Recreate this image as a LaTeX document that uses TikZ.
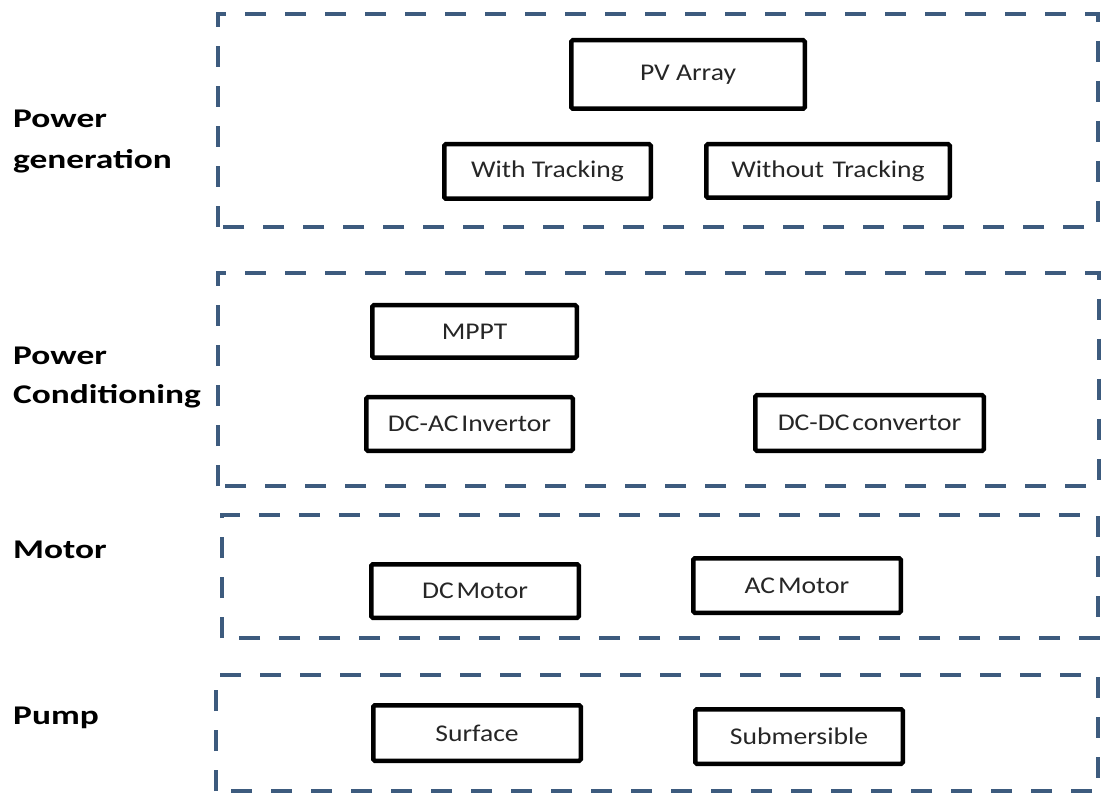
\documentclass[tikz,border=0pt]{standalone}
\usepackage{fontspec}
\setmainfont{Carlito}
\newfontfamily\boxfont[FakeStretch=1.15]{Carlito}
\newfontfamily\labfont[FakeStretch=1.31]{Carlito}
\definecolor{framecol}{HTML}{3D5B7E}
\definecolor{inkcol}{HTML}{262626}
\tikzset{
  group/.style={draw=framecol, line width=4.5pt, dash pattern=on 21pt off 19pt},
  item/.style={draw=black, line width=4.5pt, rounded corners=1.5pt, fill=white,
    inner sep=0pt, text=inkcol, font=\boxfont\fontsize{24}{28}\selectfont},
  layer/.style={anchor=north west, inner sep=0pt, align=left, text=black}
}
\begin{document}
\begin{tikzpicture}[x=1pt,y=-1pt]
\useasboundingbox (0,0) rectangle (1101,794);
\fill[white] (0,0) rectangle (1101,794);

% layer frames
\draw[group] (218,227) -- (218,14) -- (1098,14) -- (1098,227) -- cycle;
\draw[group] (218,486) -- (218,273) -- (1099,273) -- (1099,486) -- cycle;
\draw[group] (222,638) -- (222,515) -- (1098,515) -- (1098,638) -- cycle;
\draw[group] (216,791) -- (216,675) -- (1098,675) -- (1098,791) -- cycle;

% layer names
\node[layer, font=\labfont\bfseries\fontsize{27}{41}\selectfont] (lgen) at (13,110) {Power\\generation};
\node[layer, font=\labfont\bfseries\fontsize{27}{39}\selectfont] (lcond) at (13,347) {Power\\Conditioning};
\node[layer, font=\labfont\bfseries\fontsize{27}{39}\selectfont] (lmot) at (13,541) {Motor};
\node[layer, font=\labfont\bfseries\fontsize{27}{39}\selectfont] (lpump) at (13,707) {Pump};

% power generation
\node[item, minimum width=233.5pt, minimum height=68.5pt] (pv) at (688,74.5) {PV Array};
\node[item, minimum width=206.5pt, minimum height=54.5pt] (wt) at (547.5,171.5) {With Tracking};
\node[item, minimum width=243.5pt, minimum height=53.5pt] (wot) at (828,171) {Without\hspace{0.35em}Tracking};

% power conditioning
\node[item, minimum width=204.5pt, minimum height=52.5pt] (mppt) at (474.5,331.5) {MPPT};
\node[item, minimum width=206.5pt, minimum height=53.5pt] (inv) at (469.5,424) {DC-AC\hspace{0.12em}Invertor};
\node[item, minimum width=228.5pt, minimum height=55.5pt] (conv) at (869.5,423) {DC-DC\hspace{0.12em}convertor};

% motor
\node[item, minimum width=207.5pt, minimum height=53.5pt] (dcm) at (475,591) {DC\hspace{0.12em}Motor};
\node[item, minimum width=207.5pt, minimum height=54.5pt] (acm) at (797,585.5) {AC\hspace{0.12em}Motor};

% pump
\node[item, minimum width=207.5pt, minimum height=55.5pt] (surf) at (477,733) {Surface};
\node[item, minimum width=207.5pt, minimum height=54.5pt] (sub) at (799,736.5) {Submersible};
\end{tikzpicture}
\end{document}
